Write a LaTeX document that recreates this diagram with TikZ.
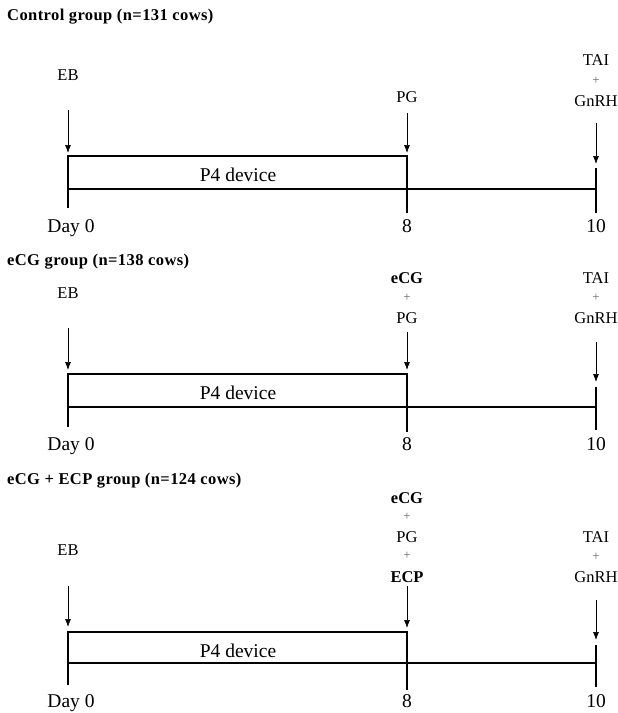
\documentclass[tikz,border=0pt]{standalone}
\usepackage{fontspec}
\setmainfont{Liberation Serif}
\usetikzlibrary{arrows.meta}
\tikzset{
  head/.style={anchor=west,inner sep=0pt,font=\fontsize{16.5}{18}\selectfont\bfseries\addfontfeatures{LetterSpace=2.5}},
  lab/.style={inner sep=0pt,font=\fontsize{16.5}{18}\selectfont},
  blab/.style={inner sep=0pt,font=\fontsize{16.5}{18}\selectfont\bfseries},
  plus/.style={inner sep=0pt,text=black!60,font=\fontsize{13}{14}\selectfont},
  big/.style={anchor=base,inner sep=0pt,font=\fontsize{19.5}{22}\selectfont},
  p4/.style={inner sep=0pt,font=\fontsize{19.5}{22}\selectfont},
  arr/.style={-{Latex[length=8pt,width=6pt]},line width=0.7pt},
  boxline/.style={line width=1.6pt},
  tick/.style={line width=2.6pt},
}
\begin{document}
\begin{tikzpicture}[x=1pt,y=-1pt]
\useasboundingbox (0,0) rectangle (618,713);
% ---------------- Panel 1 ----------------
\node[head] (h1) at (7,17) {Control group (n=131 cows)};
\node[lab] (eb1) at (68,75) {EB};
\coordinate (eb1t) at (68,153);
\draw[arr] (68,110) -- (eb1t);
\node[lab] (pg1) at (407,97) {PG};
\coordinate (pg1t) at (407,153);
\draw[arr] (407,113) -- (pg1t);
\node[lab] (tai1) at (596,60) {TAI};
\node[plus] (p1) at (596,81) {+};
\node[lab] (gn1) at (596,101) {GnRH};
\coordinate (gn1t) at (596,164);
\draw[arr] (596,123) -- (gn1t);
\coordinate (a1) at (68,156); \coordinate (b1) at (407,156);
\coordinate (c1) at (68,189); \coordinate (d1) at (596,189);
\draw[boxline] (a1) -- (b1);
\draw[boxline] (c1) -- (d1);
\draw[boxline,line width=2.2pt] (372,189) -- (407,189);
\draw[tick] (68,155) -- (68,208);
\draw[tick] (407,155) -- (407,213);
\draw[tick] (596,168) -- (596,213);
\node[p4] (p4a) at (238,175) {P4 device};
\node[big] (d0a) at (71,232) {Day 0};
\node[big] (e1) at (407,232) {8};
\node[big] (t1) at (596,232) {10};
% ---------------- Panel 2 ----------------
\node[head] (h2) at (7,262) {eCG group (n=138 cows)};
\node[lab] (eb2) at (68,293) {EB};
\coordinate (eb2t) at (68,370);
\draw[arr] (68,328) -- (eb2t);
\node[blab] (ecg2) at (407,278) {eCG};
\node[plus] (p2a) at (407,298) {+};
\node[lab] (pg2) at (407,318) {PG};
\coordinate (pg2t) at (407,370);
\draw[arr] (407,332) -- (pg2t);
\node[lab] (tai2) at (596,278) {TAI};
\node[plus] (p2b) at (596,298) {+};
\node[lab] (gn2) at (596,318) {GnRH};
\coordinate (gn2t) at (596,382);
\draw[arr] (596,342) -- (gn2t);
\coordinate (a2) at (68,374); \coordinate (b2) at (407,374);
\coordinate (c2) at (68,407); \coordinate (d2) at (596,407);
\draw[boxline] (a2) -- (b2);
\draw[boxline] (c2) -- (d2);
\draw[boxline,line width=2.2pt] (372,407) -- (407,407);
\draw[tick] (68,373) -- (68,427);
\draw[tick] (407,373) -- (407,432);
\draw[tick] (596,387) -- (596,430);
\node[p4] (p4b) at (238,393) {P4 device};
\node[big] (d0b) at (71,450) {Day 0};
\node[big] (e2) at (407,450) {8};
\node[big] (t2) at (596,450) {10};
% ---------------- Panel 3 ----------------
\node[head] (h3) at (7,481) {eCG + ECP group (n=124 cows)};
\node[lab] (eb3) at (68,550) {EB};
\coordinate (eb3t) at (68,627);
\draw[arr] (68,586) -- (eb3t);
\node[blab] (ecg3) at (407,498) {eCG};
\node[plus] (p3a) at (407,517) {+};
\node[lab] (pg3) at (407,537) {PG};
\node[plus] (p3b) at (407,556) {+};
\node[blab] (ecp3) at (407,577) {ECP};
\coordinate (ecp3t) at (407,628);
\draw[arr] (407,586) -- (ecp3t);
\node[lab] (tai3) at (596,537) {TAI};
\node[plus] (p3c) at (596,557) {+};
\node[lab] (gn3) at (596,577) {GnRH};
\coordinate (gn3t) at (596,640);
\draw[arr] (596,600) -- (gn3t);
\coordinate (a3) at (68,632); \coordinate (b3) at (407,632);
\coordinate (c3) at (68,663); \coordinate (d3) at (596,663);
\draw[boxline] (a3) -- (b3);
\draw[boxline] (c3) -- (d3);
\draw[tick] (68,631) -- (68,685);
\draw[tick] (407,631) -- (407,690);
\draw[tick] (596,645) -- (596,687);
\node[p4] (p4c) at (238,651) {P4 device};
\node[big] (d0c) at (71,707) {Day 0};
\node[big] (e3) at (407,707) {8};
\node[big] (t3) at (596,707) {10};
\end{tikzpicture}
\end{document}
